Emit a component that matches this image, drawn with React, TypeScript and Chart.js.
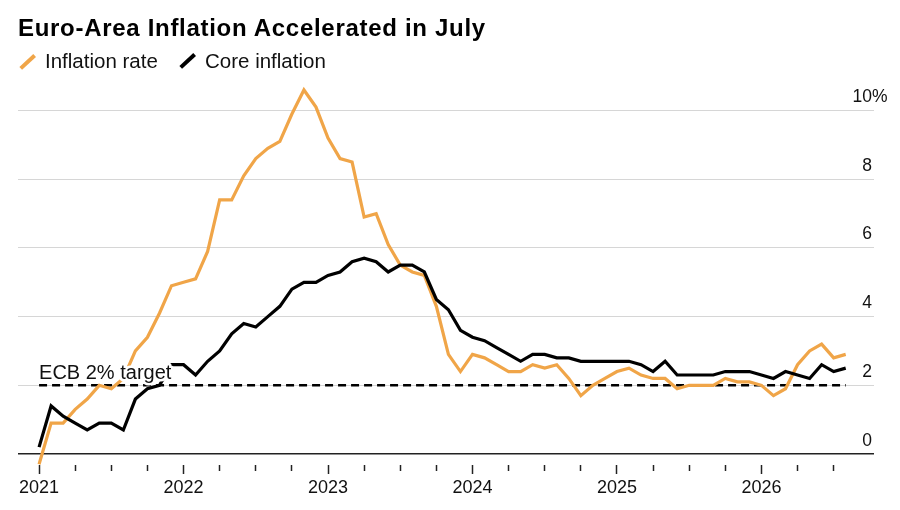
import React, { useEffect, useRef } from "react";
import { Chart, registerables } from "chart.js";

Chart.register(...registerables);

// Monthly observations, first point = Dec 2020 (plotted at the "2021" tick)
const yearLabels = ["2021", "2022", "2023", "2024", "2025", "2026"];

const inflationRate = [
  -0.3, 0.9, 0.9, 1.3, 1.6, 2.0, 1.9, 2.2, 3.0, 3.4, 4.1, 4.9,
  5.0, 5.1, 5.9, 7.4, 7.4, 8.1, 8.6, 8.9, 9.1, 9.9, 10.6, 10.1,
  9.2, 8.6, 8.5, 6.9, 7.0, 6.1, 5.5, 5.3, 5.2, 4.3, 2.9, 2.4,
  2.9, 2.8, 2.6, 2.4, 2.4, 2.6, 2.5, 2.6, 2.2, 1.7, 2.0, 2.2,
  2.4, 2.5, 2.3, 2.2, 2.2, 1.9, 2.0, 2.0, 2.0, 2.2, 2.1, 2.1,
  2.0, 1.7, 1.9, 2.6, 3.0, 3.2, 2.8, 2.9,
];

const coreInflation = [
  0.2, 1.4, 1.1, 0.9, 0.7, 0.9, 0.9, 0.7, 1.6, 1.9, 2.0, 2.6,
  2.6, 2.3, 2.7, 3.0, 3.5, 3.8, 3.7, 4.0, 4.3, 4.8, 5.0, 5.0,
  5.2, 5.3, 5.6, 5.7, 5.6, 5.3, 5.5, 5.5, 5.3, 4.5, 4.2, 3.6,
  3.4, 3.3, 3.1, 2.9, 2.7, 2.9, 2.9, 2.8, 2.8, 2.7, 2.7, 2.7,
  2.7, 2.7, 2.6, 2.4, 2.7, 2.3, 2.3, 2.3, 2.3, 2.4, 2.4, 2.4,
  2.3, 2.2, 2.4, 2.3, 2.2, 2.6, 2.4, 2.5,
];

const yTickValues = [0, 2, 4, 6, 8, 10];
const ecbTarget = 2;
const ecbLabel = "ECB 2% target";
const seriesNames = ["Inflation rate", "Core inflation"];

const ORANGE = "#F0A548";
const FONT = "'Liberation Sans', Arial, Helvetica, sans-serif";

const labelPlugin = {
  id: "customLabels",
  afterDatasetsDraw(chart: any) {
    const { ctx, chartArea, scales } = chart;
    const x = scales.x;
    const y = scales.y;
    ctx.save();
    ctx.fillStyle = "#111";
    ctx.textBaseline = "alphabetic";
    ctx.font = `17.5px ${FONT}`;
    const last = yTickValues[yTickValues.length - 1];
    yTickValues.forEach((v) => {
      const py = y.getPixelForValue(v) - 8.5;
      ctx.textAlign = "right";
      ctx.fillText(String(v), chartArea.right - 2, py);
      if (v === last) {
        ctx.textAlign = "left";
        ctx.fillText("%", chartArea.right - 2, py);
      }
    });
    // ECB label with white halo
    ctx.font = `20px ${FONT}`;
    ctx.textAlign = "left";
    const tx = x.getPixelForValue(0);
    const ty = y.getPixelForValue(ecbTarget) - 6;
    ctx.lineWidth = 5;
    ctx.lineJoin = "round";
    ctx.strokeStyle = "#fff";
    ctx.strokeText(ecbLabel, tx, ty);
    ctx.fillStyle = "#111";
    ctx.fillText(ecbLabel, tx, ty);
    ctx.restore();
  },
};

export default function App() {
  const ref = useRef<HTMLCanvasElement>(null);

  useEffect(() => {
    const n = inflationRate.length;
    const chart = new Chart(ref.current as HTMLCanvasElement, {
      type: "line",
      data: {
        datasets: [
          {
            label: seriesNames[1],
            data: coreInflation.map((v, i) => ({ x: i, y: v })),
            borderColor: "#000",
            borderWidth: 3.2,
            pointRadius: 0,
            tension: 0,
            clip: false as any,
            order: 0,
          },
          {
            label: seriesNames[0],
            data: inflationRate.map((v, i) => ({ x: i, y: v })),
            borderColor: ORANGE,
            borderWidth: 3.2,
            pointRadius: 0,
            tension: 0,
            clip: false as any,
            order: 1,
          },
          {
            label: ecbLabel,
            data: [
              { x: 0, y: ecbTarget },
              { x: n - 1, y: ecbTarget },
            ],
            borderColor: "#000",
            borderWidth: 2.5,
            borderDash: [8, 5],
            pointRadius: 0,
            order: 2,
          },
        ],
      },
      options: {
        animation: false,
        responsive: false,
        maintainAspectRatio: false,
        layout: { padding: { left: 18, top: 80, right: 0, bottom: 0 } },
        plugins: {
          legend: { display: false },
          tooltip: { enabled: false },
          title: { display: false },
        },
        scales: {
          x: {
            type: "linear",
            min: -1.75,
            max: 69.35,
            afterBuildTicks: (s: any) => {
              const t = [];
              for (let i = 0; i < n; i += 3) t.push({ value: i });
              s.ticks = t;
            },
            afterFit: (s: any) => {
              s.height = 45;
            },
            border: { display: false },
            grid: {
              drawOnChartArea: false,
              drawTicks: true,
              tickLength: 9,
              tickColor: "#222",
              tickWidth: 1.5,
              tickBorderDash: (ctx: any) =>
                ctx.tick && ctx.tick.value % 12 === 0 ? [] : [6, 30],
            },
            ticks: {
              autoSkip: false,
              maxRotation: 0,
              padding: 3,
              color: "#111",
              font: { family: FONT, size: 18 },
              callback: (v: any) =>
                Number(v) % 12 === 0 ? yearLabels[Number(v) / 12] ?? "" : "",
            },
          },
          y: {
            position: "right",
            min: -0.32,
            max: 10.89,
            afterBuildTicks: (s: any) => {
              s.ticks = yTickValues.map((v) => ({ value: v }));
            },
            afterFit: (s: any) => {
              s.width = 26;
            },
            border: { display: false },
            grid: {
              drawTicks: false,
              color: (ctx: any) =>
                ctx.tick && ctx.tick.value === 0 ? "#222" : "#d6d6d6",
              lineWidth: (ctx: any) =>
                ctx.tick && ctx.tick.value === 0 ? 1.5 : 1,
            },
            ticks: { display: false },
          },
        },
      },
      plugins: [labelPlugin],
    });
    return () => chart.destroy();
  }, []);

  const iconStyle = (color: string, cx: number, cy: number): React.CSSProperties => ({
    position: "absolute",
    left: cx - 9.5,
    top: cy - 1.75,
    width: 19,
    height: 3.5,
    background: color,
    transform: "rotate(-43deg)",
  });

  const textStyle = (left: number): React.CSSProperties => ({
    position: "absolute",
    left,
    top: 51,
    fontFamily: FONT,
    fontSize: 20.5,
    lineHeight: "20.5px",
    color: "#111",
    whiteSpace: "nowrap",
  });

  return (
    <div
      style={{
        position: "fixed",
        left: 0,
        top: 0,
        width: 900,
        height: 510,
        background: "#fff",
        overflow: "hidden",
      }}
    >
      <canvas
        ref={ref}
        width={900}
        height={510}
        style={{ position: "absolute", left: 0, top: 0, width: 900, height: 510 }}
      />
      <div
        style={{
          position: "absolute",
          left: 18,
          top: 15.5,
          fontFamily: FONT,
          fontWeight: 700,
          fontSize: 24,
          lineHeight: "24px",
          letterSpacing: 0.7,
          color: "#000",
          whiteSpace: "nowrap",
        }}
      >
        Euro-Area Inflation Accelerated in July
      </div>
      <div style={iconStyle(ORANGE, 27, 61.5)} />
      <div style={textStyle(45)}>{seriesNames[0]}</div>
      <div style={iconStyle("#000", 187.5, 61)} />
      <div style={textStyle(205)}>{seriesNames[1]}</div>
    </div>
  );
}
